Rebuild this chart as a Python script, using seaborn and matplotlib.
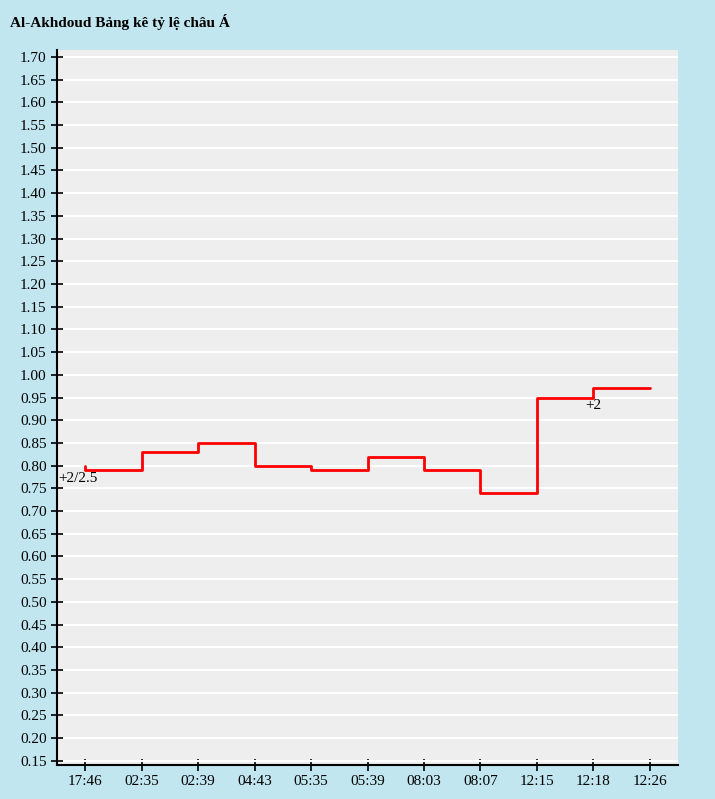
import numpy as np
import pandas as pd
import matplotlib
matplotlib.use('Agg')
import matplotlib.pyplot as plt
import seaborn as sns

times = ['17:46', '02:35', '02:39', '04:43', '05:35', '05:39', '08:03', '08:07', '12:15', '12:18', '12:26']
# step values (held from each point to the next)
step_x = [0, 0, 1, 2, 3, 4, 5, 6, 7, 8, 9, 10]
step_y = [0.80, 0.79, 0.83, 0.85, 0.80, 0.79, 0.82, 0.79, 0.74, 0.95, 0.97, 0.97]
notes = [(-0.47, 0.79, '+2/2.5', 'left'), (9, 0.95, '+2', 'center')]

sns.set_style('whitegrid')
plt.rcParams['font.family'] = ['Liberation Serif', 'DejaVu Serif']
plt.rcParams['text.color'] = 'black'

fig = plt.figure(figsize=(7.15, 7.99), dpi=100)
fig.patch.set_facecolor('#c1e6f0')
ax = fig.add_axes([57/715, 1-765/799, 621/715, 715/799])
ax.set_facecolor('#eeeeee')

df = pd.DataFrame({'x': step_x, 'y': step_y})
sns.lineplot(data=df, x='x', y='y', ax=ax, color='red', linewidth=2, drawstyle='steps-post', sort=False, estimator=None)

for x, y, t, ha in notes:
    ax.text(x, y - 0.003, t, ha=ha, va='top', fontsize=11, color='black')

ax.set_xlim(-0.5, 10.5)
ax.set_ylim(0.141, 1.715)
ax.set_xticks(range(len(times)))
ax.set_xticklabels(times)
ax.set_yticks(np.round(np.arange(0.15, 1.701, 0.05), 2))
ax.yaxis.set_major_formatter(matplotlib.ticker.FormatStrFormatter('%.2f'))
ax.grid(axis='x', visible=False)
ax.grid(axis='y', color='white', linewidth=1.5)
ax.tick_params(axis='both', bottom=True, left=True, direction='inout', length=8, width=1.2,
               labelsize=11, colors='black', labelcolor='black')
ax.set_xlabel('')
ax.set_ylabel('')
for s in ['top', 'right']:
    ax.spines[s].set_visible(False)
for s in ['left', 'bottom']:
    ax.spines[s].set_color('black')
    ax.spines[s].set_linewidth(1.5)

fig.text(10/715, 1-22/799, 'Al-Akhdoud Bảng kê tỷ lệ châu Á', fontsize=11, fontweight='bold', va='center', color='black')

fig.savefig('out.png', dpi=100, facecolor=fig.get_facecolor())
